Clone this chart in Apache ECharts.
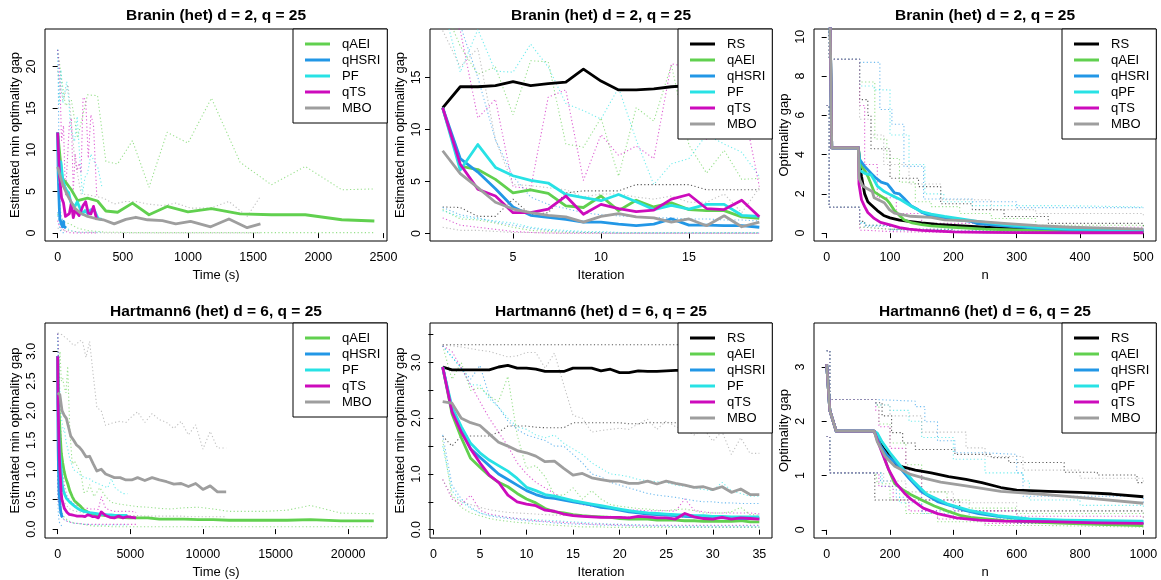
<!DOCTYPE html>
<html><head><meta charset="utf-8">
<script src="https://cdn.jsdelivr.net/npm/echarts@6/dist/echarts.min.js"></script>
<style>html,body{margin:0;padding:0;background:#fff}#c{width:1161px;height:580px}</style>
</head><body><div id="c"></div>
<script>
// ===================== DATA =====================
// ---- Branin, per iteration (medians) ----
const br_iter = [1,2,3,4,5,6,7,8,9,10,11,12,13,14,15,16,17,18,19];
const br_RS    = [12.08,14.1,14.1,14.2,14.6,14.2,14.4,14.55,15.8,14.65,13.8,13.8,13.9,14.1,14.2,14.3,14.1,14.4,14.3];
const br_qAEI  = [12.08,6.47,6.15,5.2,3.9,4.2,3.85,2.65,2.5,3.6,2.2,3.2,2.55,2.95,2.3,2.2,2.2,1.6,1.45];
const br_qHSRI = [12.08,7.2,5.9,4.3,2.55,1.75,1.55,1.35,1.1,1.1,0.9,0.75,0.9,1.4,0.8,0.8,0.75,0.75,0.6];
const br_PF    = [12.08,6.1,8.55,6.35,5.55,5.1,4.85,3.75,3.45,3.15,3.75,3.05,2.3,2.7,2.35,2.8,2.8,1.75,1.65];
const br_qTS   = [12.08,6.65,4.25,3.6,2.0,2.0,2.35,3.6,1.85,2.8,2.4,2.1,2.25,3.3,3.75,2.4,2.3,3.2,1.6];
const br_MBO   = [7.95,5.75,4.4,3.0,2.35,2.0,1.75,1.6,1.1,1.65,1.9,1.6,1.5,1.1,1.4,0.75,1.7,0.65,1.1];
// quantiles (dotted)
const br_RS_lo    = [2.55,2.5,1.65,1.65,3.3,1.8,2.0,3.9,4.1,4.1,4.1,4.7,4.7,4.7,4.7,4.2,4.2,4.2,4.2];
const br_qAEI_hi  = [22,18,15.3,16,11.4,16.6,16.5,8.6,8.3,11.1,5.5,12.1,10.8,16.2,8.5,5.8,8.0,5.2,5.3];
const br_qAEI_lo  = [2.3,1.4,1.3,1.0,0.6,0.3,0.2,0.1,0.1,0.05,0.05,0.05,0.05,0.05,0.05,0.05,0.05,0.05,0.05];
const br_qHSRI_hi = [22,20,15,9,5.5,3.5,2.8,2.4,2.0,1.8,1.7,1.6,1.5,1.5,1.4,1.4,1.3,1.3,1.2];
const br_qHSRI_lo = [2.5,1.8,1.5,1.1,0.8,0.5,0.3,0.2,0.1,0.1,0.05,0.05,0.05,0.05,0.05,0.05,0.05,0.05,0.05];
const br_PF_hi    = [22,15.5,19.6,15.6,15.5,18.2,16.0,12.5,11.8,11.0,14.0,9.0,4.7,6.7,7.2,9.5,8.6,7.8,5.5];
const br_PF_lo    = [2.2,1.6,1.4,1.2,1.0,0.6,0.4,0.3,0.2,0.2,0.1,0.1,0.1,0.1,0.1,0.1,0.1,0.1,0.1];
const br_qTS_hi   = [22,19.5,11.1,12.9,4.5,4.3,13.1,13.8,5.1,9.5,7.5,8.4,7.2,16.3,16.0,9.0,14.2,13.0,4.5];
const br_qTS_lo   = [1.5,0.8,0.6,0.4,0.2,0.1,0.05,0.02,0.02,0.02,0.02,0.02,0.02,0.02,0.02,0.02,0.02,0.02,0.02];
const br_MBO_hi   = [19.5,16.0,17.8,9.0,4.7,4.6,4.4,4.2,3.5,3.8,3.8,3.5,3.3,3.6,3.0,3.0,3.8,2.0,4.4];
const br_MBO_lo   = [0.6,0.3,0.3,0.2,0.1,0.1,0.05,0.03,0.03,0.03,0.03,0.03,0.03,0.03,0.03,0.03,0.03,0.03,0.03];
// mean elapsed time (s) at each iteration
const br_time_qAEI  = [0,35,60,105,153,229,306,370,460,574,701,840,1000,1180,1400,1640,1900,2180,2430];
const br_time_qHSRI = [0,4,7,10,14,17,21,24,28,31,35,38,42,45,49,52,56,60,64];
const br_time_PF    = [0,12,25,40,55,70,85,100,115,130,150,170,190,210,230,255,280,310,340];
const br_time_qTS   = [0,15,30,45,60,75,90,105,120,135,150,165,180,195,215,235,255,275,300];
const br_time_MBO   = [0,40,80,130,180,230,290,350,434,523,600,689,804,906,1020,1174,1314,1454,1556];

// ---- Hartmann6, per iteration (medians) ----
const hm_iter = [1,2,3,4,5,6,7,8,9,10,11,12,13,14,15,16,17,18,19,20,21,22,23,24,25,26,27,28,29,30,31,32,33,34,35];
const hm_RS    = [2.92,2.87,2.87,2.87,2.87,2.87,2.92,2.95,2.9,2.9,2.88,2.84,2.84,2.84,2.9,2.9,2.9,2.85,2.88,2.82,2.82,2.85,2.84,2.84,2.85,2.86,2.86,2.85,2.85,2.85,2.85,2.85,2.85,2.85,2.85];
const hm_qAEI  = [2.92,2.08,1.65,1.28,1.12,0.97,0.85,0.77,0.65,0.55,0.48,0.38,0.32,0.3,0.27,0.25,0.24,0.23,0.22,0.2,0.19,0.19,0.19,0.17,0.17,0.17,0.16,0.16,0.15,0.15,0.15,0.15,0.16,0.14,0.14];
const hm_qHSRI = [2.92,2.15,1.8,1.45,1.3,1.15,1.0,0.9,0.8,0.7,0.63,0.58,0.56,0.53,0.5,0.47,0.44,0.4,0.38,0.35,0.32,0.3,0.28,0.27,0.26,0.25,0.24,0.23,0.22,0.22,0.21,0.21,0.2,0.2,0.2];
const hm_PF    = [2.92,2.2,1.85,1.55,1.38,1.25,1.15,1.05,0.92,0.76,0.7,0.63,0.6,0.56,0.52,0.49,0.46,0.43,0.4,0.37,0.34,0.32,0.3,0.29,0.28,0.27,0.26,0.25,0.25,0.24,0.24,0.23,0.23,0.23,0.23];
const hm_qTS   = [2.92,2.12,1.75,1.45,1.2,0.98,0.85,0.62,0.5,0.46,0.43,0.35,0.33,0.28,0.25,0.24,0.23,0.22,0.22,0.22,0.21,0.24,0.23,0.21,0.21,0.19,0.29,0.23,0.2,0.19,0.22,0.19,0.21,0.2,0.19];
const hm_MBO   = [2.3,2.27,2.0,1.92,1.87,1.72,1.57,1.5,1.42,1.38,1.32,1.22,1.23,1.1,0.98,1.01,0.93,0.9,0.87,0.87,0.83,0.83,0.87,0.82,0.87,0.83,0.8,0.76,0.77,0.72,0.77,0.67,0.73,0.63,0.63];
// quantiles (dotted)
const hm_RS_hi    = [3.32,3.32,3.32,3.32,3.32,3.32,3.32,3.32,3.32,3.32,3.32,3.32,3.32,3.32,3.32,3.32,3.32,3.32,3.32,3.32,3.32,3.32,3.32,3.32,3.32,3.32,3.32,3.32,3.32,3.32,3.32,3.32,3.32,3.32,3.32];
const hm_RS_lo    = [1.68,1.5,1.68,1.68,1.68,1.68,1.75,1.86,1.86,1.86,1.84,1.83,1.83,1.83,1.92,1.92,1.92,1.92,1.92,1.92,1.9,1.9,1.92,1.92,1.92,1.92,1.92,1.92,1.92,1.92,1.92,1.92,1.92,1.92,1.92];
const hm_qAEI_hi  = [3.3,2.7,3.0,2.5,2.55,2.4,2.3,2.75,1.7,1.1,1.15,0.95,0.62,0.62,0.75,0.55,0.7,0.55,0.45,0.42,0.4,0.38,0.37,0.35,0.34,0.36,0.37,0.34,0.3,0.3,0.3,0.32,0.4,0.27,0.26];
const hm_qAEI_lo  = [1.6,0.6,0.4,0.3,0.25,0.2,0.17,0.15,0.13,0.12,0.1,0.09,0.08,0.07,0.06,0.05,0.05,0.05,0.04,0.04,0.04,0.04,0.04,0.04,0.04,0.04,0.04,0.04,0.04,0.04,0.04,0.04,0.04,0.04,0.04];
const hm_qHSRI_hi = [3.3,3.1,2.9,2.7,2.95,2.4,2.2,1.95,1.8,1.7,1.65,1.6,1.5,1.5,1.35,1.2,1.0,0.95,0.85,0.8,0.75,0.7,0.65,0.62,0.6,0.58,0.55,0.52,0.5,0.5,0.48,0.48,0.47,0.47,0.47];
const hm_qHSRI_lo = [1.7,0.8,0.55,0.4,0.3,0.25,0.22,0.2,0.18,0.16,0.15,0.14,0.12,0.11,0.1,0.1,0.09,0.08,0.08,0.07,0.07,0.06,0.06,0.06,0.06,0.05,0.05,0.05,0.05,0.05,0.05,0.05,0.05,0.05,0.05];
const hm_PF_hi    = [3.3,3.1,2.9,2.6,2.6,2.35,2.2,2.0,1.85,1.8,1.7,1.65,1.7,1.55,1.45,1.35,1.2,1.1,1.0,0.98,0.95,0.9,0.88,0.86,0.85,0.8,0.78,0.75,0.72,0.7,0.85,0.7,0.65,0.6,0.6];
const hm_PF_lo    = [1.5,0.7,0.5,0.38,0.3,0.26,0.24,0.22,0.2,0.19,0.18,0.17,0.16,0.15,0.14,0.13,0.12,0.11,0.1,0.1,0.09,0.09,0.08,0.08,0.08,0.07,0.07,0.07,0.07,0.07,0.07,0.07,0.07,0.07,0.07];
const hm_qTS_hi   = [3.3,3.2,2.9,2.6,2.3,2.0,1.75,1.5,1.2,1.0,0.85,0.75,0.65,0.55,0.5,0.45,0.42,0.4,0.38,0.36,0.35,0.35,0.34,0.34,0.34,0.33,0.55,0.35,0.32,0.3,0.3,0.3,0.3,0.3,0.28];
const hm_qTS_lo   = [0.9,0.55,0.45,0.62,0.35,0.28,0.25,0.22,0.2,0.18,0.16,0.15,0.14,0.13,0.12,0.11,0.1,0.1,0.09,0.09,0.08,0.08,0.08,0.08,0.08,0.08,0.08,0.08,0.08,0.08,0.08,0.08,0.08,0.08,0.08];
const hm_MBO_hi   = [3.31,3.3,3.28,3.25,3.22,3.2,3.15,3.1,3.12,3.18,3.18,2.9,3.17,2.6,2.05,2.0,1.75,1.78,1.8,1.82,1.8,1.9,1.98,1.8,1.95,1.85,1.8,1.7,1.82,1.59,1.76,1.35,1.65,1.37,1.37];
const hm_MBO_lo   = [0.9,0.6,0.5,0.45,0.4,0.36,0.33,0.31,0.3,0.29,0.28,0.27,0.26,0.26,0.25,0.25,0.24,0.24,0.24,0.23,0.23,0.23,0.23,0.22,0.22,0.22,0.22,0.22,0.22,0.21,0.21,0.21,0.21,0.21,0.21];
// mean elapsed time (s) at each iteration
const hm_time_qAEI  = [0,80,160,250,344,450,570,690,830,1000,1150,1600,1800,2000,2200,2500,2900,3300,3700,4300,4900,5500,6200,7000,7800,8700,9700,10700,11800,13000,14300,15800,17400,19500,21760];
const hm_time_qHSRI = [0,9,19,29,38,48,58,68,78,88,98,108,118,128,138,148,158,168,178,189,199,209,220,230,241,251,262,272,283,293,304,314,324,334,344];
const hm_time_PF    = [0,30,60,90,120,150,190,230,270,310,360,410,470,530,600,700,820,950,1100,1250,1420,1600,1800,2000,2200,2450,2700,2950,3200,3450,3700,3950,4200,4500,4800];
const hm_time_qTS   = [0,30,60,90,120,160,200,240,290,340,400,460,540,650,800,980,1160,1340,1520,1700,1880,2060,2240,2420,2600,2800,3000,3300,3600,3900,4200,4500,4800,5100,5400];
const hm_time_MBO   = [0,150,300,450,600,750,900,1100,1300,1500,1700,1950,2200,2450,2700,3000,3300,3600,3900,4300,4700,5100,5500,6000,6500,7000,7500,8000,8500,9000,9500,10000,10500,11000,11600];

// ---- Branin, optimality gap vs n ----
const bn_start_n = [0, 8, 50];
const bn_start_v = [25, 4.35, 4.35];
const bn_n_RS    = [52,55,60,65,70,80,90,100,115,130,150,175,200,250,300,350,400,450,500];
const bn_RS      = [3.6,2.9,2.0,1.6,1.45,1.15,0.9,0.78,0.66,0.6,0.52,0.45,0.4,0.3,0.22,0.17,0.13,0.11,0.1];
const bn_n_qAEI  = [52,55,60,65,70,75,85,95,100,107,115,122,135,150,165,200,250,300,350,400,500];
const bn_qAEI    = [3.8,3.4,3.2,2.9,2.5,2.1,1.9,1.7,1.5,1.15,0.9,0.68,0.52,0.43,0.37,0.29,0.2,0.16,0.13,0.11,0.08];
const bn_n_qHSRI = [52,60,70,78,86,96,101,107,115,122,133,144,151,160,175,200,228,238,280,333,385,450,500];
const bn_qHSRI   = [3.75,3.4,3.05,2.8,2.6,2.5,2.3,2.05,2.0,1.78,1.4,1.2,1.05,0.93,0.82,0.7,0.6,0.48,0.37,0.25,0.18,0.15,0.14];
const bn_n_qPF   = [52,60,70,75,80,91,101,117,133,149,165,186,212,238,280,333,385,450,500];
const bn_qPF     = [3.2,3.05,2.97,2.7,2.4,2.12,1.95,1.7,1.38,1.1,0.97,0.85,0.73,0.6,0.43,0.3,0.2,0.18,0.17];
const bn_n_qTS   = [51,55,60,65,75,85,100,115,130,150,175,200,250,300,400,500];
const bn_qTS     = [2.5,1.7,1.35,1.05,0.75,0.55,0.42,0.28,0.2,0.14,0.1,0.06,0.04,0.03,0.02,0.02];
const bn_n_MBO   = [51,57,65,72,75,91,99,107,133,165,186,228,280,333,385,450,500];
const bn_MBO     = [2.8,2.4,2.25,2.12,1.8,1.55,1.2,1.02,0.86,0.8,0.68,0.63,0.5,0.38,0.3,0.24,0.2];
// quantiles (dotted, step)
const bn_hi_start_n = [0, 4];
const bn_hi_start_v = [25, 8.86];
const bn_lo_start_n = [0, 4];
const bn_lo_start_v = [6.5, 1.32];
const bn_hi_n_RS    = [52,65,70,100,145,180,230,280,350,500];
const bn_hi_RS      = [6.8,6.0,4.3,2.8,2.37,1.5,1.2,0.85,0.5,0.35];
const bn_hi_n_qAEI  = [52,76,95,115,140,165,210,260,330,500];
const bn_hi_qAEI    = [7.7,4.8,3.8,2.6,1.6,1.35,1.0,0.75,0.4,0.3];
const bn_hi_n_qHSRI = [52,84,103,122,153,230,300,500];
const bn_hi_qHSRI   = [8.7,6.3,5.55,3.4,1.74,1.6,1.3,1.3];
const bn_hi_n_qPF   = [52,75,100,130,155,185,230,380,500];
const bn_hi_qPF     = [7.5,7.3,5.0,3.5,2.0,1.6,1.4,1.33,1.33];
const bn_hi_n_qTS   = [52,60,80,110,150,250,500];
const bn_hi_qTS     = [6.5,3.5,1.8,1.0,0.5,0.3,0.2];
const bn_hi_n_MBO   = [52,70,90,130,180,260,330,500];
const bn_hi_MBO     = [5.8,5.0,3.5,2.5,1.7,1.2,1.0,0.9];
const bn_lo_n       = [52,60,100,200,500];
const bn_lo_RS      = [0.6,0.4,0.2,0.08,0.03];
const bn_lo_qAEI    = [0.3,0.2,0.1,0.05,0.02];
const bn_lo_qHSRI   = [0.5,0.35,0.15,0.06,0.03];
const bn_lo_qPF     = [0.55,0.4,0.2,0.08,0.04];
const bn_lo_qTS     = [0.15,0.08,0.03,0.01,0.0];
const bn_lo_MBO     = [0.3,0.2,0.1,0.05,0.02];

// ---- Hartmann6, optimality gap vs n ----
const hn_start_n = [0, 10, 30, 150];
const hn_start_v = [3.05, 2.2, 1.82, 1.82];
const hn_n_RS    = [160,180,205,220,240,280,330,385,440,490,550,600,700,800,900,1000];
const hn_RS      = [1.7,1.5,1.35,1.2,1.16,1.1,1.05,0.98,0.93,0.87,0.78,0.73,0.71,0.69,0.66,0.61];
const hn_n_qAEI  = [160,175,190,200,215,240,265,300,340,380,425,455,560,670,800,1000];
const hn_qAEI    = [1.7,1.45,1.2,1.05,0.85,0.74,0.65,0.55,0.44,0.35,0.26,0.23,0.17,0.14,0.11,0.08];
const hn_n_qHSRI = [155,170,190,220,260,300,350,400,430,480,540,640,750,1000];
const hn_qHSRI   = [1.75,1.55,1.38,1.22,0.95,0.7,0.52,0.43,0.37,0.3,0.25,0.19,0.16,0.15];
const hn_n_qPF   = [160,175,200,230,270,315,380,450,540,640,750,1000];
const hn_qPF     = [1.78,1.62,1.42,1.2,0.92,0.66,0.48,0.36,0.26,0.2,0.18,0.16];
const hn_n_qTS   = [160,175,195,220,245,265,305,350,410,480,560,700,850,1000];
const hn_qTS     = [1.65,1.42,1.12,0.85,0.68,0.57,0.4,0.3,0.22,0.18,0.16,0.15,0.13,0.12];
const hn_n_MBO   = [160,185,215,265,310,360,440,550,650,750,850,1000];
const hn_MBO     = [1.62,1.35,1.17,1.02,0.95,0.88,0.81,0.71,0.67,0.62,0.57,0.49];
// quantiles (dotted, step)
const hn_hi_start_n = [0, 10];
const hn_hi_start_v = [3.3, 2.4];
const hn_lo_start_n = [0, 10];
const hn_lo_start_v = [1.72, 1.05];
const hn_hi_n_RS    = [155,175,205,240,280,405,520,575,750,855,980,1000];
const hn_hi_RS      = [2.34,2.1,1.79,1.6,1.48,1.39,1.33,1.24,1.06,1.01,0.87,0.87];
const hn_lo_n_RS    = [152,420,1000];
const hn_lo_RS      = [0.55,0.35,0.33];
const hn_hi_n_qAEI  = [155,165,200,250,300,380,450,600,1000];
const hn_hi_qAEI    = [2.3,1.95,1.6,1.2,0.7,0.55,0.4,0.3,0.22];
const hn_lo_n_qAEI  = [155,160,200,250,350,500,700,1000];
const hn_lo_qAEI    = [1.05,0.85,0.55,0.3,0.15,0.08,0.05,0.04];
const hn_hi_n_qHSRI = [155,280,310,350,405,500,600,620,1000];
const hn_hi_qHSRI   = [2.37,2.27,1.99,1.64,1.42,1.39,1.05,0.62,0.5];
const hn_lo_n_qHSRI = [155,170,220,300,450,600,1000];
const hn_lo_qHSRI   = [1.05,0.9,0.6,0.35,0.2,0.12,0.1];
const hn_hi_n_qPF   = [155,200,260,300,400,500,620,640,800,1000];
const hn_hi_qPF     = [2.3,2.2,2.0,1.7,1.3,1.05,0.9,0.55,0.45,0.4];
const hn_lo_n_qPF   = [155,175,230,300,400,600,1000];
const hn_lo_qPF     = [1.05,0.8,0.5,0.3,0.2,0.12,0.06];
const hn_hi_n_qTS   = [155,165,200,250,300,400,600,1000];
const hn_hi_qTS     = [2.2,1.9,1.5,1.1,0.55,0.35,0.25,0.2];
const hn_lo_n_qTS   = [155,165,210,260,350,500,1000];
const hn_lo_qTS     = [1.05,0.8,0.55,0.35,0.2,0.12,0.08];
const hn_hi_n_MBO   = [155,200,300,440,500,620,800,1000];
const hn_hi_MBO     = [2.3,2.1,1.8,1.51,1.35,1.1,0.95,0.85];
const hn_lo_n_MBO   = [155,180,250,400,600,1000];
const hn_lo_MBO     = [1.05,0.9,0.7,0.5,0.35,0.3];

// ---- text / ticks ----
const TITLES = ['Branin (het) d = 2, q = 25','Branin (het) d = 2, q = 25','Branin (het) d = 2, q = 25',
                'Hartmann6 (het) d = 6, q = 25','Hartmann6 (het) d = 6, q = 25','Hartmann6 (het) d = 6, q = 25'];
const XNAMES = ['Time (s)','Iteration','n','Time (s)','Iteration','n'];
const YNAMES = ['Estimated min optimality gap','Estimated min optimality gap','Optimality gap',
                'Estimated min optimality gap','Estimated min optimality gap','Optimality gap'];
const LEGENDS = [['qAEI','qHSRI','PF','qTS','MBO'],['RS','qAEI','qHSRI','PF','qTS','MBO'],['RS','qAEI','qHSRI','qPF','qTS','MBO'],
                 ['qAEI','qHSRI','PF','qTS','MBO'],['RS','qAEI','qHSRI','PF','qTS','MBO'],['RS','qAEI','qHSRI','qPF','qTS','MBO']];
const X_TICKS = [[0,500,1000,1500,2000,2500],[5,10,15],[0,100,200,300,400,500],
                 [0,5000,10000,15000,20000],[0,5,10,15,20,25,30,35],[0,200,400,600,800,1000]];
const Y_TICKS = [[0,5,10,15,20],[0,5,10,15],[0,2,4,6,8,10],
                 [0,0.5,1,1.5,2,2.5,3],[0,0.5,1,1.5,2,2.5,3,3.5],[0,1,2,3]];
const Y_LABELS = [[0,5,10,15,20],[0,5,10,15],[0,2,4,6,8,10],
                 [0,0.5,1,1.5,2,2.5,3],[0,1,2,3],[0,1,2,3]];
const Y_DEC = [0,0,0,1,1,0];

// ===================== LAYOUT / STYLE =====================
const FONT = '"Liberation Sans", Arial, Helvetica, sans-serif';
const COL = {RS:'#000000', qAEI:'#61D04F', qHSRI:'#2297E6', PF:'#28E2E5', qPF:'#28E2E5', qTS:'#CD0BBC', MBO:'#9E9E9E'};
const GRIDS = [
  {left:45, top:29, width:342, height:212},
  {left:430, top:29, width:342, height:212},
  {left:814, top:29, width:342, height:212},
  {left:45, top:323, width:342, height:215},
  {left:430, top:323, width:342, height:215},
  {left:814, top:323, width:342, height:215}
];
const RANGES = [
  {x:[-97,2527], y:[-0.95,24.5]},
  {x:[0.28,19.72], y:[-0.72,19.65]},
  {x:[-20,520], y:[-0.4,10.4]},
  {x:[-872,22672], y:[-0.15,3.48]},
  {x:[-0.36,36.36], y:[-0.15,3.71]},
  {x:[-40,1040], y:[-0.15,3.81]}
];

function zip(xs, ys){ return xs.map((x,i)=>[x, ys[i]]); }
const series = [];
function med(g, name, xs, ys){
  series.push({type:'line', name:name, xAxisIndex:g, yAxisIndex:g, data:zip(xs,ys),
    symbol:'none', showSymbol:false, color:COL[name], silent:true, z:3,
    lineStyle:{width:2.8, color:COL[name], cap:'butt', join:'round'}});
}
function q(g, name, xs, ys, step){
  series.push({type:'line', name:name+' quantile', xAxisIndex:g, yAxisIndex:g, data:zip(xs,ys),
    symbol:'none', showSymbol:false, step: step || false, silent:true, z:2,
    lineStyle:{width:1.1, type:[1.2,2.4], color:COL[name], opacity:0.65}});
}

const BR = {
  qAEI:{t:br_time_qAEI, m:br_qAEI, hi:br_qAEI_hi, lo:br_qAEI_lo},
  qHSRI:{t:br_time_qHSRI, m:br_qHSRI, hi:br_qHSRI_hi, lo:br_qHSRI_lo},
  PF:{t:br_time_PF, m:br_PF, hi:br_PF_hi, lo:br_PF_lo},
  qTS:{t:br_time_qTS, m:br_qTS, hi:br_qTS_hi, lo:br_qTS_lo},
  MBO:{t:br_time_MBO, m:br_MBO, hi:br_MBO_hi, lo:br_MBO_lo}
};
const HM = {
  qAEI:{t:hm_time_qAEI, m:hm_qAEI, hi:hm_qAEI_hi, lo:hm_qAEI_lo},
  qHSRI:{t:hm_time_qHSRI, m:hm_qHSRI, hi:hm_qHSRI_hi, lo:hm_qHSRI_lo},
  PF:{t:hm_time_PF, m:hm_PF, hi:hm_PF_hi, lo:hm_PF_lo},
  qTS:{t:hm_time_qTS, m:hm_qTS, hi:hm_qTS_hi, lo:hm_qTS_lo},
  MBO:{t:hm_time_MBO, m:hm_MBO, hi:hm_MBO_hi, lo:hm_MBO_lo}
};
const M5 = ['qAEI','qHSRI','PF','qTS','MBO'];

// time panels (0 and 3)
[[0,BR],[3,HM]].forEach(([g,D])=>{
  M5.forEach(m=>{ q(g,m,D[m].t,D[m].hi); q(g,m,D[m].t,D[m].lo); });
  M5.forEach(m=>{ med(g,m,D[m].t,D[m].m); });
});
// iteration panels (1 and 4)
q(1,'RS',br_iter,br_RS_lo);
M5.forEach(m=>{ q(1,m,br_iter,BR[m].hi); q(1,m,br_iter,BR[m].lo); });
med(1,'RS',br_iter,br_RS);
M5.forEach(m=>med(1,m,br_iter,BR[m].m));

q(4,'RS',hm_iter,hm_RS_hi); q(4,'RS',hm_iter,hm_RS_lo);
M5.forEach(m=>{ q(4,m,hm_iter,HM[m].hi); q(4,m,hm_iter,HM[m].lo); });
med(4,'RS',hm_iter,hm_RS);
M5.forEach(m=>med(4,m,hm_iter,HM[m].m));

// n panels (2 and 5)
const M6 = ['RS','qAEI','qHSRI','qPF','qTS','MBO'];
const BN = {
  RS:{n:bn_n_RS, v:bn_RS, hn:bn_hi_n_RS, hv:bn_hi_RS, lv:bn_lo_RS},
  qAEI:{n:bn_n_qAEI, v:bn_qAEI, hn:bn_hi_n_qAEI, hv:bn_hi_qAEI, lv:bn_lo_qAEI},
  qHSRI:{n:bn_n_qHSRI, v:bn_qHSRI, hn:bn_hi_n_qHSRI, hv:bn_hi_qHSRI, lv:bn_lo_qHSRI},
  qPF:{n:bn_n_qPF, v:bn_qPF, hn:bn_hi_n_qPF, hv:bn_hi_qPF, lv:bn_lo_qPF},
  qTS:{n:bn_n_qTS, v:bn_qTS, hn:bn_hi_n_qTS, hv:bn_hi_qTS, lv:bn_lo_qTS},
  MBO:{n:bn_n_MBO, v:bn_MBO, hn:bn_hi_n_MBO, hv:bn_hi_MBO, lv:bn_lo_MBO}
};
M6.forEach(m=>{
  const d = BN[m];
  q(2,m,bn_hi_start_n.concat(d.hn), bn_hi_start_v.concat(d.hv),'end');
  q(2,m,bn_lo_start_n.concat(bn_lo_n), bn_lo_start_v.concat(d.lv),'end');
});
M6.forEach(m=>med(2,m,bn_start_n.concat(BN[m].n), bn_start_v.concat(BN[m].v)));

const HN = {
  RS:{n:hn_n_RS, v:hn_RS, hn:hn_hi_n_RS, hv:hn_hi_RS, ln:hn_lo_n_RS, lv:hn_lo_RS},
  qAEI:{n:hn_n_qAEI, v:hn_qAEI, hn:hn_hi_n_qAEI, hv:hn_hi_qAEI, ln:hn_lo_n_qAEI, lv:hn_lo_qAEI},
  qHSRI:{n:hn_n_qHSRI, v:hn_qHSRI, hn:hn_hi_n_qHSRI, hv:hn_hi_qHSRI, ln:hn_lo_n_qHSRI, lv:hn_lo_qHSRI},
  qPF:{n:hn_n_qPF, v:hn_qPF, hn:hn_hi_n_qPF, hv:hn_hi_qPF, ln:hn_lo_n_qPF, lv:hn_lo_qPF},
  qTS:{n:hn_n_qTS, v:hn_qTS, hn:hn_hi_n_qTS, hv:hn_hi_qTS, ln:hn_lo_n_qTS, lv:hn_lo_qTS},
  MBO:{n:hn_n_MBO, v:hn_MBO, hn:hn_hi_n_MBO, hv:hn_hi_MBO, ln:hn_lo_n_MBO, lv:hn_lo_MBO}
};
M6.forEach(m=>{
  const d = HN[m];
  q(5,m,hn_hi_start_n.concat(d.hn), hn_hi_start_v.concat(d.hv),'end');
  q(5,m,hn_lo_start_n.concat(d.ln), hn_lo_start_v.concat(d.lv),'end');
});
M6.forEach(m=>med(5,m,hn_start_n.concat(HN[m].n), hn_start_v.concat(HN[m].v)));

// ===================== AXES =====================
const txt = {color:'#000', fontFamily:FONT};
const xAxis = GRIDS.map((g,i)=>({
  type:'value', gridIndex:i, min:RANGES[i].x[0], max:RANGES[i].x[1],
  axisLine:{show:false}, splitLine:{show:false},
  axisTick:{show:true, length:5, customValues:X_TICKS[i], lineStyle:{color:'#000', width:1}},
  axisLabel:{customValues:X_TICKS[i], margin:10, fontSize:12.5, ...txt, formatter:v=>String(v)},
  name:XNAMES[i], nameLocation:'middle', nameGap:28, nameTextStyle:{fontSize:13, ...txt}
}));
const yAxis = GRIDS.map((g,i)=>({
  type:'value', gridIndex:i, min:RANGES[i].y[0], max:RANGES[i].y[1],
  axisLine:{show:false}, splitLine:{show:false},
  axisTick:{show:true, length:5, customValues:Y_TICKS[i], lineStyle:{color:'#000', width:1}},
  axisLabel:{customValues:Y_LABELS[i], rotate:90, margin:7, fontSize:12.5, ...txt,
    formatter:v=>Number(v).toFixed(Y_DEC[i])},
  name:YNAMES[i], nameLocation:'middle', nameGap:23, nameTextStyle:{fontSize:13, ...txt}
}));

const option = {
  animation:false,
  backgroundColor:'#ffffff',
  title: GRIDS.map((g,i)=>({
    text:TITLES[i], left:g.left + g.width/2, top: i<3 ? 8 : 304, textAlign:'center', padding:0,
    textStyle:{fontSize:15.5, fontWeight:'bold', ...txt}
  })),
  grid: GRIDS.map(g=>({left:g.left, top:g.top, width:g.width, height:g.height, show:true,
    borderColor:'#000', borderWidth:1, backgroundColor:'transparent', containLabel:false})),
  legend: GRIDS.map((g,i)=>({
    orient:'vertical', left:g.left + g.width - 94, top:g.top, data:LEGENDS[i],
    icon:'rect', itemWidth:25, itemHeight:3, itemGap:0, selectedMode:false,
    padding:[7,7,7,12], borderColor:'#000', borderWidth:1, backgroundColor:'#fff', z:10,
    textStyle:{fontSize:13, lineHeight:16, padding:[0,0,0,7], ...txt}
  })),
  xAxis, yAxis, series
};
const chart = echarts.init(document.getElementById('c'), null, {renderer:'canvas'});
chart.setOption(option);
</script></body></html>
